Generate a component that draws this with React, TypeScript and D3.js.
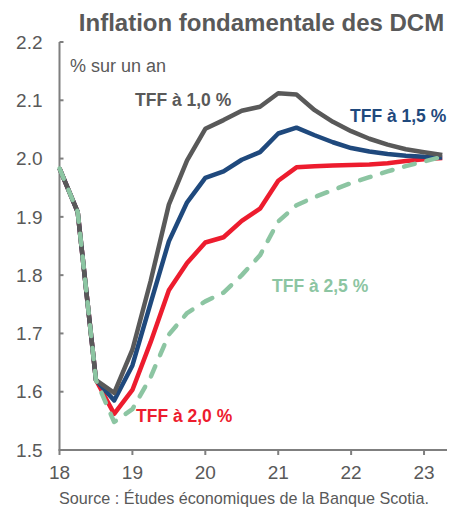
import React from "react";
import * as d3 from "d3";

const quarters: number[] = [
  18, 18.25, 18.5, 18.75, 19, 19.25, 19.5, 19.75, 20, 20.25, 20.5, 20.75,
  21, 21.25, 21.5, 21.75, 22, 22.25, 22.5, 22.75, 23, 23.25,
];
const tff10: number[] = [
  1.983, 1.908, 1.62, 1.598, 1.672, 1.79, 1.921, 1.997, 2.051, 2.066, 2.082, 2.089,
  2.112, 2.11, 2.083, 2.063, 2.047, 2.034, 2.024, 2.016, 2.011, 2.006,
];
const tff15: number[] = [
  1.983, 1.908, 1.62, 1.585, 1.645, 1.752, 1.858, 1.925, 1.967, 1.978, 1.998, 2.011,
  2.043, 2.053, 2.04, 2.028, 2.018, 2.012, 2.008, 2.005, 2.003, 2.002,
];
const tff20: number[] = [
  1.983, 1.908, 1.62, 1.562, 1.603, 1.685, 1.774, 1.821, 1.856, 1.865, 1.893, 1.914,
  1.962, 1.985, 1.987, 1.988, 1.989, 1.99, 1.992, 1.996, 1.999, 2.001,
];
const tff25: number[] = [
  1.983, 1.908, 1.62, 1.548, 1.57, 1.625, 1.698, 1.735, 1.755, 1.77, 1.8, 1.834,
  1.892, 1.92, 1.934, 1.946, 1.958, 1.968, 1.978, 1.987, 1.995, 2.003,
];
const yTicks: number[] = [1.5, 1.6, 1.7, 1.8, 1.9, 2.0, 2.1, 2.2];
const xTicks: number[] = [18, 19, 20, 21, 22, 23];

const seriesNames = ["TFF à 1,0 %", "TFF à 1,5 %", "TFF à 2,0 %", "TFF à 2,5 %"];
const seriesValues = [tff10, tff15, tff20, tff25];
const seriesColors = ["#595959", "#1f497d", "#ed1c2e", "#8cc5a2"];
const drawOrder = [2, 1, 0, 3];

const title = "Inflation fondamentale des DCM";
const unitLabel = "% sur un an";
const source = "Source : Études économiques de la Banque Scotia.";

export default function App() {
  const W = 453;
  const H = 508;
  const x = d3.scaleLinear().domain([18, 23.315]).range([59.5, 447]);
  const y = d3.scaleLinear().domain([1.5, 2.2]).range([450, 42]);
  const line = d3
    .line<number>()
    .x((_, i) => x(quarters[i]))
    .y((d) => y(d));
  const font = "Liberation Sans, Arial, sans-serif";
  const labelPos = [
    { x: 135, y: 106 },
    { x: 350, y: 121.5 },
    { x: 136, y: 421.5 },
    { x: 272, y: 291.5 },
  ];
  return (
    <svg
      width={W}
      height={H}
      style={{ position: "absolute", left: 0, top: 0, background: "#fff" }}
      fontFamily={font}
    >
      <text x={261.5} y={31} textAnchor="middle" fontSize={24} fontWeight="bold" fill="#595959">
        {title}
      </text>
      <line x1={x(18)} x2={x(18)} y1={y(2.2)} y2={y(1.5)} stroke="#7f7f7f" strokeWidth={2} />
      <line x1={x(18) - 1} x2={447} y1={y(1.5)} y2={y(1.5)} stroke="#7f7f7f" strokeWidth={2} />
      {yTicks.map((t) => (
        <g key={"y" + t}>
          <line x1={x(18)} x2={x(18) + 4} y1={y(t)} y2={y(t)} stroke="#7f7f7f" strokeWidth={2} />
          <text x={42.5} y={y(t)} dy="0.35em" textAnchor="end" fontSize={19} fill="#595959">
            {t.toFixed(1)}
          </text>
        </g>
      ))}
      {xTicks.map((t) => (
        <g key={"x" + t}>
          <line x1={x(t)} x2={x(t)} y1={y(1.5)} y2={y(1.5) + 5} stroke="#7f7f7f" strokeWidth={2} />
          <text x={x(t)} y={479} textAnchor="middle" fontSize={19} fill="#595959">
            {t}
          </text>
        </g>
      ))}
      <text x={70} y={72} fontSize={18} fill="#595959">
        {unitLabel}
      </text>
      {drawOrder.map((k) => (
        <path
          key={seriesNames[k]}
          d={line(seriesValues[k]) || ""}
          fill="none"
          stroke={seriesColors[k]}
          strokeWidth={4.5}
          strokeLinejoin="round"
          strokeLinecap={k === 3 ? "round" : "butt"}
          strokeDasharray={k === 3 ? "11 12" : undefined}
        />
      ))}
      {seriesNames.map((n, k) => (
        <text
          key={"l" + n}
          x={labelPos[k].x}
          y={labelPos[k].y}
          fontSize={17.5}
          fontWeight="bold"
          fill={seriesColors[k]}
        >
          {n}
        </text>
      ))}
      <text x={244} y={504} textAnchor="middle" fontSize={16.2} fill="#595959">
        {source}
      </text>
    </svg>
  );
}
